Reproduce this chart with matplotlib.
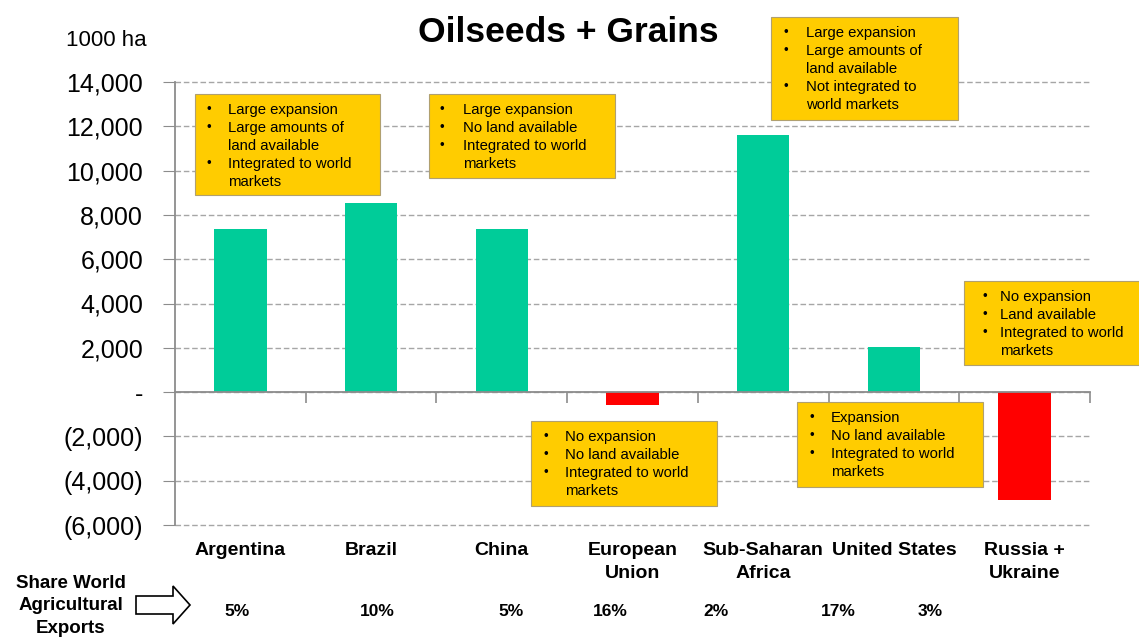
import matplotlib.pyplot as plt
import matplotlib.patches as mpatches
from matplotlib.ticker import FuncFormatter, FixedLocator

plt.rcParams['font.family'] = ['Liberation Sans', 'DejaVu Sans']

regions = ['Argentina', 'Brazil', 'China', 'European\nUnion',
           'Sub-Saharan\nAfrica', 'United States', 'Russia +\nUkraine']
area_change = [7360, 8550, 7360, -590, 11620, 2030, -4880]
export_share = ['5%', '10%', '5%', '16%', '2%', '17%', '3%']

notes = [
    ['Large expansion', 'Large amounts of\nland available', 'Integrated to world\nmarkets'],
    ['Large expansion', 'No land available', 'Integrated to world\nmarkets'],
    ['Large expansion', 'Large amounts of\nland available', 'Not integrated to\nworld markets'],
    ['No expansion', 'No land available', 'Integrated to world\nmarkets'],
    ['Expansion', 'No land available', 'Integrated to world\nmarkets'],
    ['No expansion', 'Land available', 'Integrated to world\nmarkets'],
]

W, H = 1139, 637
GREEN = '#00CC99'
RED = '#FF0000'
YELLOW = '#FFCC00'
GRAY = '#8C8C8C'

fig = plt.figure(figsize=(W / 100, H / 100), dpi=100)
ax = fig.add_axes([175 / W, 1 - 525 / H, (1090 - 175) / W, (525 - 82) / H])


def fx(px):
    return px / W


def fy(py):
    return 1 - py / H


x = list(range(len(regions)))
colors = [GREEN if v >= 0 else RED for v in area_change]
ax.bar(x, area_change, width=0.4, color=colors, zorder=3)

ax.set_xlim(-0.5, len(regions) - 0.5)
ax.set_ylim(-6000, 14000)
ax.set_yticks(range(-6000, 14001, 2000))


def fmt(v, pos):
    if v == 0:
        return '-'
    if v < 0:
        return '({:,.0f})'.format(-v)
    return '{:,.0f}'.format(v)


ax.yaxis.set_major_formatter(FuncFormatter(fmt))
ax.tick_params(axis='y', labelsize=18, length=9, color=GRAY, pad=14)
ax.yaxis.grid(True, linestyle=(0, (4, 2)), color='#A6A6A6', linewidth=1, zorder=0)
ax.set_axisbelow(True)
for gl in ax.get_ygridlines():
    gl.set_clip_on(False)

# category separators hang below the zero line
ax.xaxis.set_major_locator(FixedLocator([i + 0.5 for i in x]))
ax.tick_params(axis='x', labelbottom=False, length=8, color=GRAY, width=1.2)
ax.spines['bottom'].set_position(('data', 0))
ax.spines['bottom'].set_color(GRAY)
ax.spines['bottom'].set_linewidth(1.3)
ax.spines['bottom'].set_zorder(4)
ax.spines['left'].set_color(GRAY)
ax.spines['left'].set_linewidth(1.3)
ax.spines['top'].set_visible(False)
ax.spines['right'].set_visible(False)

for i, name in enumerate(regions):
    ax.text(i, -0.038, name, transform=ax.get_xaxis_transform(), ha='center',
            va='top', fontsize=14, fontweight='bold', linespacing=1.5)

share_x = [237, 377, 511, 610, 716, 838, 930]
for px, s in zip(share_x, export_share):
    fig.text(fx(px), fy(611), s, ha='center', va='center', fontsize=12.5,
             fontweight='bold')

fig.text(fx(71), fy(606), 'Share World\nAgricultural\nExports', ha='center',
         va='center', fontsize=13.5, fontweight='bold', linespacing=1.45)

# outline block arrow
arrow_px = [(136, 596), (173, 596), (173, 586), (190, 605), (173, 624),
            (173, 614), (136, 614)]
fig.patches.append(mpatches.Polygon([(fx(a), fy(b)) for a, b in arrow_px],
                                    closed=True, facecolor='white',
                                    edgecolor='black', linewidth=1.2,
                                    transform=fig.transFigure))

fig.text(fx(106), fy(40), '1000 ha', ha='center', va='center', fontsize=16)
fig.text(fx(568), fy(33), 'Oilseeds + Grains', ha='center', va='center',
         fontsize=25.5, fontweight='bold')

# (left, top, right, bottom, bullet offset, text offset) in pixels
boxes = [
    (195, 94, 380, 195, 14, 33),
    (429, 94, 615, 178, 13, 34),
    (771, 17, 958, 120, 15, 35),
    (531, 421, 717, 506, 15, 34),
    (797, 402, 983, 487, 15, 34),
    (964, 281, 1140, 365, 21, 36),
]
for (l, t, r, b, bo, to), items in zip(boxes, notes):
    fig.patches.append(mpatches.Rectangle((fx(l), fy(b)), fx(r - l), (b - t) / H,
                                          facecolor=YELLOW, edgecolor='#B0A070',
                                          linewidth=0.8,
                                          transform=fig.transFigure, zorder=5))
    line_y = t + 16
    for item in items:
        fig.text(fx(l + bo), fy(line_y), '\u2022', ha='center', va='center',
                 fontsize=9.5, zorder=6)
        for part in item.split('\n'):
            fig.text(fx(l + to), fy(line_y), part, ha='left', va='center',
                     fontsize=10.7, zorder=6)
            line_y += 18

fig.savefig('out.png', dpi=100)
